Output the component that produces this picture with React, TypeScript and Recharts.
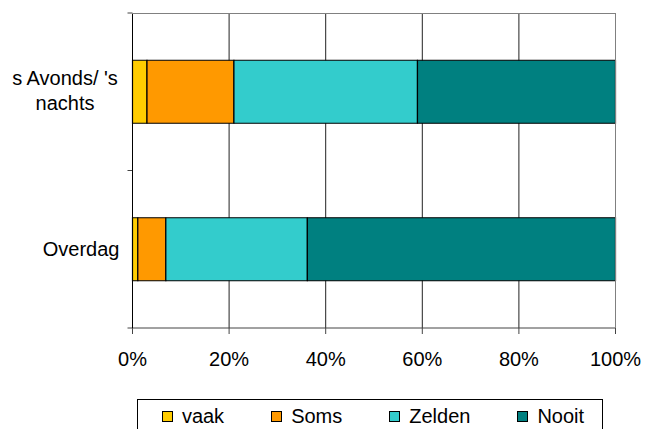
import React from "react";
import { Bar, BarChart, CartesianGrid, XAxis, YAxis } from "recharts";

const categories = ["s Avonds/ 's nachts", "Overdag"];
const vaak = [3, 1.1];
const soms = [18, 5.8];
const zelden = [38, 29.3];
const nooit = [41, 63.8];
const xTicks = [0, 20, 40, 60, 80, 100];

const series = [
  { key: "vaak", name: "vaak", color: "#FFCC00", values: vaak },
  { key: "soms", name: "Soms", color: "#FF9900", values: soms },
  { key: "zelden", name: "Zelden", color: "#33CCCC", values: zelden },
  { key: "nooit", name: "Nooit", color: "#008080", values: nooit }
];

const data = categories.map((c, i) => {
  const row: Record<string, string | number> = { cat: c };
  series.forEach((s) => (row[s.key] = s.values[i]));
  return row;
});

const FONT = "'Liberation Sans', Arial, sans-serif";
const W = 645;
const H = 429;
const MARGIN = { top: 13, right: 29.5, bottom: 61, left: 0 };
const Y_AXIS_W = 132.5;
const X_AXIS_H = 40;

const PLOT = {
  left: MARGIN.left + Y_AXIS_W,
  top: MARGIN.top,
  right: W - MARGIN.right,
  bottom: H - MARGIN.bottom - X_AXIS_H
};

function wrap(label: string, max: number) {
  const lines: string[] = [];
  let cur = "";
  label.split(" ").forEach((w) => {
    const next = cur ? cur + " " + w : w;
    if (next.length > max && cur) {
      lines.push(cur);
      cur = w;
    } else cur = next;
  });
  if (cur) lines.push(cur);
  return lines;
}

function CategoryTick(props: any) {
  const { x, y, payload } = props;
  const lines = wrap(String(payload.value), 12);
  if (lines.length === 1) {
    return (
      <text x={x} y={y + 7} textAnchor="end" fontSize={20} fontFamily={FONT} fill="#000">
        {lines[0]}
      </text>
    );
  }
  return (
    <text x={x - 54.5} y={y} textAnchor="middle" fontSize={20} fontFamily={FONT} fill="#000">
      {lines.map((l, i) => (
        <tspan key={i} x={x - 54.5} y={y + 7 - 1.5 + (i - (lines.length - 1) / 2) * 25}>
          {l}
        </tspan>
      ))}
    </text>
  );
}

// tick marks between the categories on the left axis
function BandTicks() {
  const band = (PLOT.bottom - PLOT.top) / categories.length;
  const bounds = Array.from({ length: categories.length + 1 }, (_, i) => PLOT.top + i * band);
  return (
    <g>
      {bounds.map((b, i) => (
        <line key={i} x1={PLOT.left - 5} x2={PLOT.left} y1={b} y2={b} stroke="#444" />
      ))}
    </g>
  );
}

export default function App() {
  return (
    <div style={{ position: "absolute", left: 0, top: 0, width: W, height: H, background: "#fff", overflow: "hidden" }}>
      <BarChart
        width={W}
        height={H}
        data={data}
        layout="vertical"
        margin={MARGIN}
        barCategoryGap="30%"
      >
        <CartesianGrid horizontal={false} stroke="#222" strokeOpacity={1} />
        <XAxis
          type="number"
          domain={[0, 100]}
          ticks={xTicks}
          tickFormatter={(v) => `${v}%`}
          height={X_AXIS_H}
          tickSize={6}
          tickMargin={18}
          axisLine={{ stroke: "#444" }}
          tickLine={{ stroke: "#444" }}
          tick={{ fill: "#000", fontSize: 20, fontFamily: FONT }}
          interval={0}
        />
        <YAxis
          type="category"
          dataKey="cat"
          width={Y_AXIS_W}
          tickLine={false}
          tickSize={6}
          tickMargin={7}
          axisLine={{ stroke: "#000" }}
          tick={<CategoryTick />}
          interval={0}
        />
        {series.map((s) => (
          <Bar
            key={s.key}
            dataKey={s.key}
            name={s.name}
            stackId="a"
            fill={s.color}
            stroke="#000"
            strokeWidth={1.2}
            isAnimationActive={false}
          />
        ))}
        <BandTicks />
      </BarChart>
      {/* grey top and right border of the plot area */}
      <div
        style={{
          position: "absolute",
          left: Math.floor(PLOT.left),
          top: PLOT.top,
          width: Math.ceil(PLOT.right) - Math.floor(PLOT.left),
          height: PLOT.bottom - PLOT.top,
          borderTop: "1px solid #808080",
          borderRight: "1px solid #808080",
          boxSizing: "border-box",
          pointerEvents: "none"
        }}
      />
      <div
        style={{
          position: "absolute",
          left: 137,
          top: 399,
          width: 466,
          height: 40,
          border: "1px solid #000",
          borderBottom: "none",
          boxSizing: "border-box",
          display: "flex",
          justifyContent: "center",
          alignItems: "flex-start",
          paddingTop: 6,
          paddingLeft: 6,
          gap: 47,
          fontFamily: FONT,
          fontSize: 20,
          lineHeight: "20px",
          color: "#000"
        }}
      >
        {series.map((s) => (
          <div key={s.key} style={{ display: "flex", alignItems: "center" }}>
            <span
              style={{
                display: "inline-block",
                width: 11,
                height: 11,
                background: s.color,
                border: "1px solid #000",
                boxSizing: "border-box",
                marginRight: 9
              }}
            />
            <span>{s.name}</span>
          </div>
        ))}
      </div>
    </div>
  );
}
